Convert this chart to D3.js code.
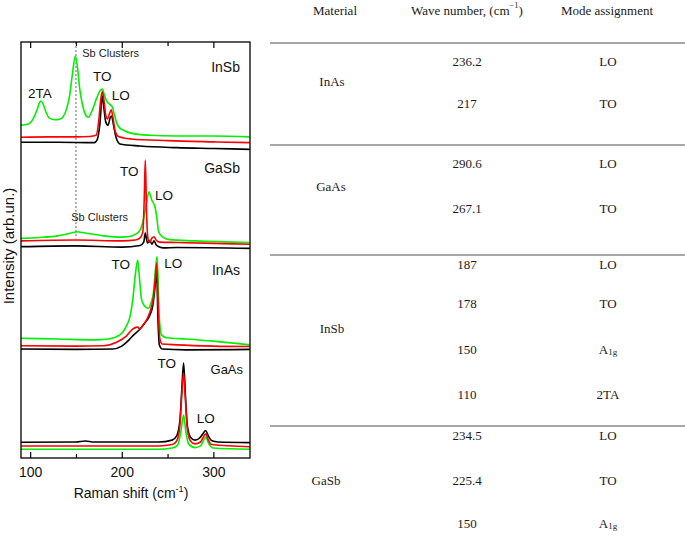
<!DOCTYPE html>
<html>
<head>
<meta charset="utf-8">
<script src="https://cdn.jsdelivr.net/npm/d3@7"></script>
<style>
html,body{margin:0;padding:0;background:#fff;}
svg{display:block;}
</style>
</head>
<body>
<svg id="chart" width="685" height="557"></svg>
<script>
// ---------------- DATA (x: Raman shift cm-1, y: intensity arb. units, stacked) ----------------
const xTicksMajor = [100, 200, 300];
const xTicksMinor = [150, 250];

const insbGreen = [[90,80.0],[98,80.3],[103,81.4],[107,83.4],[110,85.3],[111.8,85.8],[114,85.2],[117,83.3],[121,81.7],[127,81.3],[133,81.5],[136,82.0],[140,84.1],[143,87.0],[146,92.1],[149.3,96.6],[152,93.3],[154,88.9],[157,85.1],[160,82.7],[163.5,81.9],[168,83.7],[172.6,86.5],[176,88.2],[178.8,88.7],[181,87.3],[183.5,85.8],[186.5,85.1],[189.7,84.4],[192,82.5],[194.5,80.5],[198,79.3],[202,78.8],[210,78.1],[230,77.6],[260,77.4],[300,77.4],[340,77.2]];
const insbRed = [[90,77.1],[120,77.2],[150,77.2],[165,77.3],[172,77.6],[175,81.3],[177,86.1],[178.8,88.1],[180.5,86.1],[182.5,82.5],[184.5,81.5],[186.5,82.7],[188.5,83.7],[190.5,81.7],[193,78.4],[197,77.2],[210,76.7],[250,76.3],[300,76.0],[340,75.8]];
const insbBlack = [[90,75.9],[130,75.9],[170,75.8],[173,76.4],[176,80.0],[178.8,87.0],[180.5,84.1],[182.5,80.8],[185,80.0],[187.5,81.9],[189,82.2],[191,80.0],[194,76.9],[198,75.5],[220,75.0],[260,74.6],[300,74.4],[340,74.2]];

const gasbGreen = [[90,52.8],[110,53.0],[130,53.4],[145,54.1],[151,54.4],[160,54.1],[180,53.4],[200,53.1],[210,53.3],[215,53.8],[220,54.8],[224,57.7],[227,61.3],[229.7,64.0],[232.7,62.0],[236.3,60.4],[238,58.2],[240.3,54.4],[244.7,53.1],[252,52.5],[280,52.2],[340,51.8]];
const gasbRed = [[90,52.2],[150,52.4],[200,52.2],[215,52.4],[220,52.9],[223,54.3],[224.5,62.0],[225.7,71.6],[227,59.6],[228.5,52.9],[230.5,51.9],[233,52.9],[235.2,53.2],[237.5,52.4],[241,51.9],[260,51.8],[340,51.4]];
const gasbBlack = [[90,50.8],[150,51.0],[200,50.7],[220,51.1],[224,51.9],[225.7,54.1],[228,51.7],[230.8,52.2],[233,51.4],[235.2,52.2],[238,51.1],[245,50.5],[260,50.6],[340,50.4]];

const inasGreen = [[90,28.8],[130,28.6],[170,28.4],[185,28.6],[198,29.6],[205,31.7],[209,34.0],[212,38.0],[214.6,43.6],[217.4,47.6],[219.5,42.8],[221.7,38.0],[225,36.5],[229,36.0],[232,37.3],[234.5,39.7],[236.7,45.2],[238.6,48.4],[240.9,34.0],[243.4,29.6],[249,28.9],[270,28.6],[300,28.1],[340,27.2]];
const inasRed = [[90,27.0],[150,26.9],[180,27.0],[195,27.9],[205,29.3],[212,31.0],[215.5,31.4],[217.5,31.5],[219.5,31.0],[223,31.9],[228,33.6],[232.5,36.4],[235,39.2],[236.5,42.8],[238.1,46.8],[240,34.4],[241.5,28.8],[244,27.4],[260,27.2],[300,26.9],[340,26.8]];
const inasBlack = [[90,26.2],[150,26.1],[190,26.2],[200,26.9],[208,28.4],[213,29.6],[220,31.0],[226,32.7],[230,34.0],[234,36.8],[236.5,41.6],[238.1,45.2],[239.5,33.4],[241,27.2],[244,26.2],[270,26.0],[340,26.1]];

const gaasGreen = [[90,2.1],[240,2.1],[255,2.4],[261,3.1],[264.5,6.25],[267.5,10.3],[270,6.25],[273,3.4],[280,2.5],[286,2.9],[291.6,5.0],[295,3.4],[300,2.4],[340,2.1]];
const gaasRed = [[90,2.9],[240,2.9],[255,3.25],[260,4.1],[263.5,7.9],[265.5,15.1],[267.5,20.4],[269.5,13.9],[271.5,7.2],[275,4.1],[280,3.4],[286,3.85],[288.5,4.8],[291.6,5.8],[294.5,4.3],[298,3.25],[340,2.7]];
const gaasBlack = [[90,3.77],[150,3.85],[160,4.1],[170,3.85],[240,3.85],[255,4.3],[260,5.3],[263.5,9.1],[265.5,16.3],[267.5,22.8],[269.5,15.1],[271.5,7.9],[275,5.0],[280,4.3],[285,4.8],[288.5,5.8],[291.6,6.6],[294.5,5.3],[298,4.2],[305,3.85],[340,3.7]];

// annotation labels (data coordinates)
const panelLabels = [
  {text:"InSb", x:329.1, y:94.1, size:14},
  {text:"GaSb", x:329.1, y:69.6, size:14},
  {text:"InAs", x:329.1, y:45.2, size:14},
  {text:"GaAs", x:332.4, y:21.2, size:13}
];
const peakLabels = [
  {text:"2TA", x:110.7, y:87.7},
  {text:"TO", x:178.8, y:91.8},
  {text:"LO", x:198.8, y:87.1},
  {text:"TO", x:208.2, y:68.8},
  {text:"LO", x:246.1, y:63.1},
  {text:"TO", x:198.8, y:46.4},
  {text:"LO", x:256.3, y:46.8},
  {text:"TO", x:249.1, y:22.8},
  {text:"LO", x:291.6, y:9.4}
];
const clusterLabels = [
  {text:"Sb Clusters", x:156.9, y:97.3, anchor:"start"},
  {text:"Sb Clusters", x:175.9, y:58.0, anchor:"middle"}
];
const clusterLine = {x:150, y0:100, y1:52.8};

// table data
const materials = ["InAs", "GaAs", "InSb", "GaSb"];
const waveNumbers = [["236.2","217"], ["290.6","267.1"], ["187","178","150","110"], ["234.5","225.4","150"]];
const modes = [["LO","TO"], ["LO","TO"], ["LO","TO","A1g","2TA"], ["LO","TO","A1g"]];

// ---------------- LAYOUT ----------------
const svg = d3.select("#chart");
const plot = {left:21, right:250, top:42, bottom:458};
const x = d3.scaleLinear().domain([90,340]).range([plot.left, plot.right]);
const y = d3.scaleLinear().domain([0,100]).range([plot.bottom, plot.top]);
const sans = "'Liberation Sans', Arial, sans-serif";
const serif = "'Liberation Serif', 'Times New Roman', serif";

svg.append("rect").attr("width",685).attr("height",557).attr("fill","#fff");

// axes
const gB = svg.append("g").attr("transform",`translate(0,${plot.bottom})`);
gB.call(d3.axisBottom(x).tickValues(xTicksMajor).tickSize(-6).tickPadding(9).tickFormat(d3.format("d")));
const gBm = svg.append("g").attr("transform",`translate(0,${plot.bottom})`);
gBm.call(d3.axisBottom(x).tickValues(xTicksMinor).tickSize(-4).tickFormat(""));
const gT = svg.append("g").attr("transform",`translate(0,${plot.top})`);
gT.call(d3.axisTop(x).tickValues(xTicksMajor).tickSize(-6).tickFormat(""));
const gTm = svg.append("g").attr("transform",`translate(0,${plot.top})`);
gTm.call(d3.axisTop(x).tickValues(xTicksMinor).tickSize(-4).tickFormat(""));
[gB,gBm,gT,gTm].forEach(g=>{
  g.select(".domain").remove();
  g.selectAll(".tick line").attr("stroke","#000").attr("stroke-width",1.2);
  g.selectAll(".tick text").attr("font-family",sans).attr("font-size",14).attr("fill","#111");
});

// dashed cluster line
svg.append("line")
  .attr("x1",x(clusterLine.x)).attr("x2",x(clusterLine.x))
  .attr("y1",y(clusterLine.y0)).attr("y2",y(clusterLine.y1))
  .attr("stroke","#444").attr("stroke-width",0.8).attr("stroke-dasharray","2,2");

// spectra
const line = d3.line().x(d=>x(d[0])).y(d=>y(d[1])).curve(d3.curveMonotoneX);
const G = "#00f000", K = "#000", R = "#ff0000";
const traces = [
  {d:insbGreen,c:G},{d:gasbGreen,c:G},{d:inasGreen,c:G},{d:gaasGreen,c:G},
  {d:insbBlack,c:K},{d:gasbBlack,c:K},{d:inasBlack,c:K},{d:gaasBlack,c:K},
  {d:insbRed,c:R},{d:gasbRed,c:R},{d:inasRed,c:R},{d:gaasRed,c:R}
];
svg.append("g").selectAll("path").data(traces).join("path")
  .attr("d",t=>line(t.d)).attr("fill","none").attr("stroke",t=>t.c)
  .attr("stroke-width",1.6).attr("stroke-linejoin","round");

// frame
svg.append("rect").attr("x",plot.left).attr("y",plot.top)
  .attr("width",plot.right-plot.left).attr("height",plot.bottom-plot.top)
  .attr("fill","none").attr("stroke","#000").attr("stroke-width",1.3);

// labels
svg.append("g").selectAll("text").data(panelLabels).join("text")
  .attr("x",d=>x(d.x)).attr("y",d=>y(d.y)).attr("text-anchor","end")
  .attr("dominant-baseline","central").attr("font-family",sans)
  .attr("font-size",d=>d.size).attr("fill","#111").text(d=>d.text);
svg.append("g").selectAll("text").data(peakLabels).join("text")
  .attr("x",d=>x(d.x)).attr("y",d=>y(d.y)).attr("text-anchor","middle")
  .attr("dominant-baseline","central").attr("font-family",sans)
  .attr("font-size",13.5).attr("fill","#111").text(d=>d.text);
svg.append("g").selectAll("text").data(clusterLabels).join("text")
  .attr("x",d=>x(d.x)).attr("y",d=>y(d.y)).attr("text-anchor",d=>d.anchor)
  .attr("dominant-baseline","central").attr("font-family",sans)
  .attr("font-size",11).attr("fill","#222").text(d=>d.text);

// axis titles
const xt = svg.append("text").attr("x",131).attr("y",498).attr("text-anchor","middle")
  .attr("font-family",sans).attr("font-size",14).attr("fill","#111");
xt.append("tspan").text("Raman shift (cm");
xt.append("tspan").attr("font-size",9).attr("dy",-6).text("-1");
xt.append("tspan").attr("dy",6).text(")");
svg.append("text").attr("transform","translate(13.5,246) rotate(-90)")
  .attr("text-anchor","middle").attr("font-family",sans).attr("font-size",15)
  .attr("fill","#111").text("Intensity (arb.un.)");

// ---------------- TABLE ----------------
const tbl = svg.append("g").attr("font-family",serif).attr("font-size",13).attr("fill","#1a1a1a");
const colX = {mat:332, wave:467, mode:608};
const materialX = [332, 331, 332, 326];
const headerY = 10;
const hdr = [
  {t:"Material", x:colX.mat + 3},
  {t:"Mode assignment", x:colX.mode - 1}
];
tbl.selectAll("text.hdr").data(hdr).join("text").attr("class","hdr")
  .attr("x",d=>d.x).attr("y",headerY).attr("text-anchor","middle")
  .attr("dominant-baseline","central").text(d=>d.t);
const wh = tbl.append("text").attr("x",colX.wave).attr("y",headerY).attr("text-anchor","middle")
  .attr("dominant-baseline","central");
wh.append("tspan").text("Wave number, (cm");
wh.append("tspan").attr("font-size",8.5).attr("dy",-5).text("\u22121");
wh.append("tspan").attr("dy",5).text(")");

const ruleY = [43, 145, 255, 426];
tbl.selectAll("line").data(ruleY).join("line")
  .attr("x1",270).attr("x2",685).attr("y1",d=>d).attr("y2",d=>d)
  .attr("stroke","#8a8a8a").attr("stroke-width",1.6);

const materialY = [81.7, 186.7, 328, 480];
const rowY = [[61.7,103.3],[163.3,208.3],[264,303,349,394],[435,480,523.3]];

materials.forEach((m,i)=>{
  tbl.append("text").attr("x",materialX[i]).attr("y",materialY[i]).attr("text-anchor","middle")
    .attr("dominant-baseline","central").text(m);
  waveNumbers[i].forEach((w,j)=>{
    tbl.append("text").attr("x",colX.wave).attr("y",rowY[i][j]).attr("text-anchor","middle")
      .attr("dominant-baseline","central").text(w);
  });
  modes[i].forEach((md,j)=>{
    const t = tbl.append("text").attr("x",colX.mode).attr("y",rowY[i][j]).attr("text-anchor","middle")
      .attr("dominant-baseline","central");
    if (md === "A1g") {
      t.append("tspan").text("A");
      t.append("tspan").attr("font-size",9).attr("dy",3).text("1g");
    } else {
      t.text(md);
    }
  });
});
</script>
</body>
</html>
